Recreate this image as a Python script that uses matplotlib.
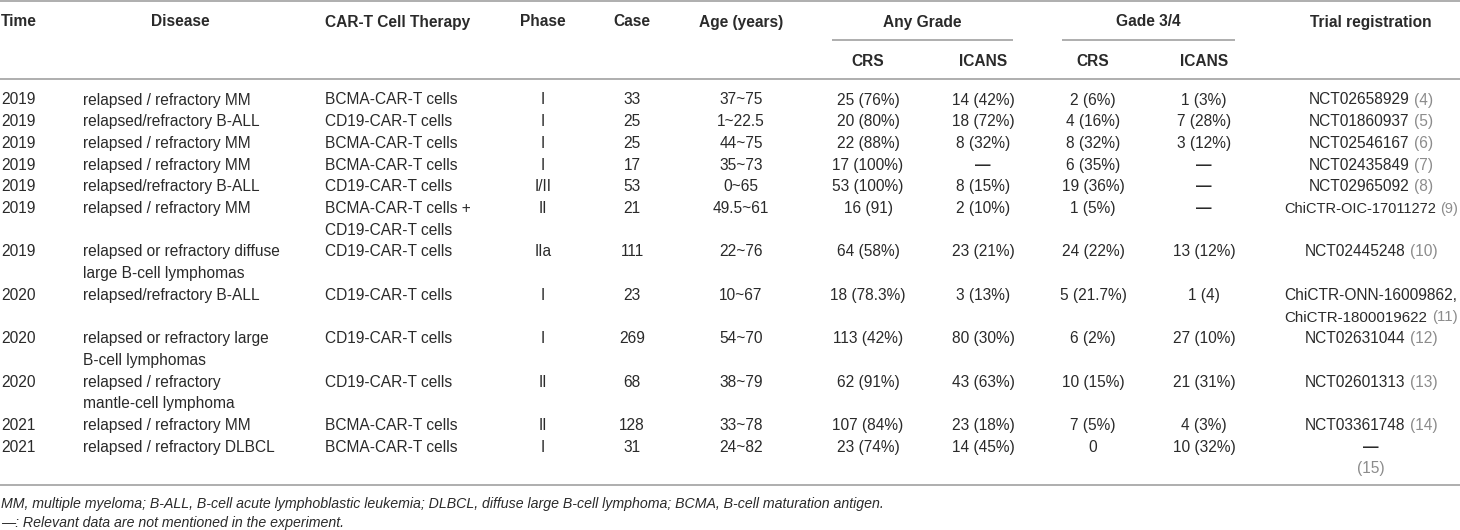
import matplotlib
matplotlib.use("Agg")
import matplotlib.pyplot as plt

# ---------------- data ----------------
times = ["2019"] * 7 + ["2020"] * 3 + ["2021"] * 2
diseases = ["relapsed / refractory MM", "relapsed/refractory B-ALL", "relapsed / refractory MM",
            "relapsed / refractory MM", "relapsed/refractory B-ALL", "relapsed / refractory MM",
            "relapsed or refractory diffuse\nlarge B-cell lymphomas", "relapsed/refractory B-ALL",
            "relapsed or refractory large\nB-cell lymphomas", "relapsed / refractory\nmantle-cell lymphoma",
            "relapsed / refractory MM", "relapsed / refractory DLBCL"]
therapies = ["BCMA-CAR-T cells", "CD19-CAR-T cells", "BCMA-CAR-T cells", "BCMA-CAR-T cells",
             "CD19-CAR-T cells", "BCMA-CAR-T cells +\nCD19-CAR-T cells", "CD19-CAR-T cells",
             "CD19-CAR-T cells", "CD19-CAR-T cells", "CD19-CAR-T cells", "BCMA-CAR-T cells",
             "BCMA-CAR-T cells"]
phases = ["I", "I", "I", "I", "I/II", "II", "IIa", "I", "I", "II", "II", "I"]
cases = ["33", "25", "25", "17", "53", "21", "111", "23", "269", "68", "128", "31"]
ages = ["37~75", "1~22.5", "44~75", "35~73", "0~65", "49.5~61", "22~76", "10~67", "54~70",
        "38~79", "33~78", "24~82"]
any_crs = ["25 (76%)", "20 (80%)", "22 (88%)", "17 (100%)", "53 (100%)", "16 (91)", "64 (58%)",
           "18 (78.3%)", "113 (42%)", "62 (91%)", "107 (84%)", "23 (74%)"]
any_icans = ["14 (42%)", "18 (72%)", "8 (32%)", "—", "8 (15%)", "2 (10%)", "23 (21%)", "3 (13%)",
             "80 (30%)", "43 (63%)", "23 (18%)", "14 (45%)"]
g34_crs = ["2 (6%)", "4 (16%)", "8 (32%)", "6 (35%)", "19 (36%)", "1 (5%)", "24 (22%)",
           "5 (21.7%)", "6 (2%)", "10 (15%)", "7 (5%)", "0"]
g34_icans = ["1 (3%)", "7 (28%)", "3 (12%)", "—", "—", "—", "13 (12%)", "1 (4)", "27 (10%)",
             "21 (31%)", "4 (3%)", "10 (32%)"]
trials = ["NCT02658929", "NCT01860937", "NCT02546167", "NCT02435849", "NCT02965092",
          "ChiCTR-OIC-17011272", "NCT02445248", "ChiCTR-ONN-16009862,\nChiCTR-1800019622",
          "NCT02631044", "NCT02601313", "NCT03361748", "—\n"]
refs = ["(4)", "(5)", "(6)", "(7)", "(8)", "(9)", "(10)", "(11)", "(12)", "(13)", "(14)", "(15)"]

header_top = ["Time", "Disease", "CAR-T Cell Therapy", "Phase", "Case", "Age (years)",
              "Any Grade", "Gade 3/4", "Trial registration"]
header_sub = ["CRS", "ICANS", "CRS", "ICANS"]
footnotes = ["MM, multiple myeloma; B-ALL, B-cell acute lymphoblastic leukemia; DLBCL, diffuse large "
             "B-cell lymphoma; BCMA, B-cell maturation antigen.",
             "—: Relevant data are not mentioned in the experiment."]

# ---------------- style / layout ----------------
W, H = 1460, 530
FS = 11.2
FS_NOTE = 10.2
TXT = "#2a2a2a"
REF = "#8c8c8c"
LINE = "#a8a8a8"
FONT = ["Liberation Sans", "DejaVu Sans"]
TRIAL_X = 1371
TRIAL_MAXW = 172

plt.rcParams["font.family"] = FONT
fig = plt.figure(figsize=(W / 100, H / 100), dpi=100)
ax = fig.add_axes([0, 0, 1, 1])
ax.set_xlim(0, W)
ax.set_ylim(H, 0)
ax.axis("off")

BASE = 5.5          # center -> baseline offset
ROW0 = 99.0
STEP = 21.7

# header
top_x = [1, 180, 325, 543, 632, 741, 922, 1148, 1371]
top_ha = ["left", "center", "left", "center", "center", "center", "center", "center", "center"]
for t, x, ha in zip(header_top, top_x, top_ha):
    ax.text(x, 21 + BASE, t, ha=ha, va="baseline", fontsize=FS, fontweight="bold", color=TXT)
sub_x = [868, 983, 1093, 1204]
for t, x in zip(header_sub, sub_x):
    ax.text(x, 60 + BASE, t, ha="center", va="baseline", fontsize=FS, fontweight="bold", color=TXT)

# rules
for xs, y in [((0, W), 1), ((0, W), 79), ((832, 1013), 40), ((1062, 1235), 40), ((0, W), 485)]:
    ax.plot(xs, [y, y], color=LINE, lw=1.3, solid_capstyle="butt")

# body
columns = [times, diseases, therapies, phases, cases, ages, any_crs, any_icans, g34_crs, g34_icans]
col_x = [1, 83, 325, 543, 632, 741, 868, 983, 1093, 1204]
col_ha = ["left", "left", "left", "center", "center", "center", "center", "center", "center", "center"]

fig.canvas.draw()
renderer = fig.canvas.get_renderer()


def text_width(s, fs=FS):
    t = ax.text(0, 0, s, fontsize=fs)
    w = t.get_window_extent(renderer=renderer).width
    t.remove()
    return w


k = 0
for i in range(len(times)):
    nlines = max(len(str(c[i]).split("\n")) for c in columns + [trials])
    for col, x, ha in zip(columns, col_x, col_ha):
        for j, line in enumerate(str(col[i]).split("\n")):
            y = ROW0 + (k + j) * STEP + BASE
            bold = line.strip() == "—"
            ax.text(x, y, line, ha=ha, va="baseline", fontsize=FS, color=TXT,
                    fontweight="bold" if bold else "normal")
    tl = trials[i].split("\n")
    for j, line in enumerate(tl):
        y = ROW0 + (k + j) * STEP + BASE
        isdash = line.strip() == "—"
        if j < len(tl) - 1:
            ax.text(TRIAL_X, y, line, ha="center", va="baseline", fontsize=FS, color=TXT,
                    fontweight="bold" if isdash else "normal")
        elif line.strip():
            fs = FS
            total = text_width(line + " " + refs[i], fs)
            if total > TRIAL_MAXW:
                fs = FS * TRIAL_MAXW / total
            space = text_width("x x", fs) - text_width("xx", fs)
            w1 = text_width(line, fs)
            w2 = text_width(refs[i], fs)
            x0 = TRIAL_X - (w1 + space + w2) / 2
            ax.text(x0, y, line, ha="left", va="baseline", fontsize=fs, color=TXT)
            ax.text(x0 + w1 + space, y, refs[i], ha="left", va="baseline", fontsize=fs, color=REF)
        else:
            ax.text(TRIAL_X, y, refs[i], ha="center", va="baseline", fontsize=FS, color=REF)
    k += nlines

# footnotes
ax.text(1, 503 + 5, footnotes[0], ha="left", va="baseline", fontsize=FS_NOTE, style="italic", color=TXT)
ax.text(1, 522 + 5, footnotes[1], ha="left", va="baseline", fontsize=FS_NOTE, style="italic", color=TXT)

fig.savefig("out.png", dpi=100)
